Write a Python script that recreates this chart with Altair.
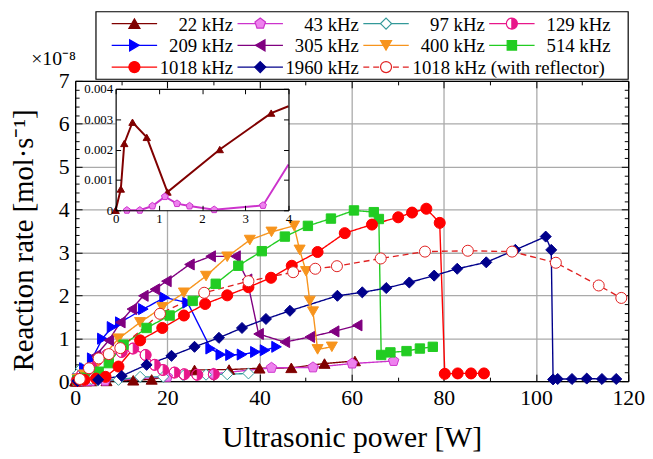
import altair as alt
import pandas as pd

SERIES = ["22 kHz", "43 kHz", "97 kHz", "129 kHz", "209 kHz", "305 kHz", "400 kHz", "514 kHz",
          "1018 kHz", "1960 kHz", "1018 kHz (with reflector)"]

# ultrasonic power [W] and reaction rate [1e-8 mol/s]
X22 = [0.0, 0.12, 0.2, 0.39, 0.72, 1.2, 2.41, 3.6, 6.8, 12.6, 16.6, 25.9, 33.4, 40.0, 46.9, 54.1, 60.7]
Y22 = [0.0, 0.0007, 0.0022, 0.0029, 0.0024, 0.0006, 0.002, 0.0032, 0.005, 0.02, 0.04, 0.26, 0.27, 0.30, 0.31, 0.41, 0.47]
X43 = [0.26, 0.56, 0.85, 1.14, 1.42, 1.71, 2.28, 3.41, 6.5, 20.0, 30.0, 42.6, 51.6, 60.1, 69.1]
Y43 = [0.0, 0.0, 0.00014, 0.00045, 0.00022, 0.00014, 0.00002, 0.00016, 0.0072, 0.1, 0.17, 0.31, 0.32, 0.41, 0.47]
X97 = [0.3, 0.8, 1.3, 1.9, 2.5, 3.5, 4.8, 9.4, 14.1, 19.1, 23.5, 28.4, 33.0, 37.6]
Y97 = [0.02, 0.2, 0.3, 0.17, 0.1, 0.05, 0.02, 0.03, 0.1, 0.1, 0.13, 0.15, 0.16, 0.18]
X129 = [0.5, 1.5, 2.5, 3.7, 4.8, 6.9, 10.1, 12.6, 15.3, 17.3, 19.1, 21.6, 23.7, 26.5, 30.1]
Y129 = [0.05, 0.15, 0.25, 0.34, 0.49, 0.61, 0.68, 0.76, 0.61, 0.38, 0.26, 0.2, 0.16, 0.15, 0.16]
X209 = [0.5, 2.0, 3.7, 5.9, 8.0, 9.8, 14.8, 19.4, 24.4, 29.4, 31.6, 33.7, 36.2, 39.1, 41.2, 43.7]
Y209 = [0.05, 0.3, 0.53, 0.99, 1.26, 1.37, 1.68, 1.95, 1.83, 0.76, 0.62, 0.61, 0.62, 0.68, 0.72, 0.8]
X305 = [0.5, 1.5, 4.5, 7.3, 9.8, 12.3, 14.8, 17.3, 19.8, 24.8, 29.4, 34.8, 37.3, 39.8, 45.5, 50.9, 56.2, 61.2]
Y305 = [0.05, 0.15, 0.6, 0.95, 1.37, 1.68, 1.99, 2.14, 2.33, 2.72, 2.91, 2.91, 2.37, 1.1, 0.91, 1.03, 1.16, 1.30]
X400 = [0.5, 2.0, 5.0, 9.4, 14.1, 18.9, 23.6, 28.4, 33.0, 37.9, 42.6, 47.5, 48.7, 50.1, 50.9, 51.6, 52.6, 55.7]
Y400 = [0.05, 0.15, 0.45, 0.99, 1.37, 1.72, 2.06, 2.45, 2.9, 3.29, 3.48, 3.62, 3.06, 2.56, 1.87, 1.62, 0.74, 0.80]
X514 = [0.5, 2.0, 5.1, 7.3, 10.5, 15.5, 20.5, 25.5, 30.5, 35.4, 40.5, 45.5, 50.5, 55.5, 60.5, 64.8, 65.9, 66.4, 68.4, 71.9, 74.8, 77.6]
Y514 = [0.02, 0.08, 0.22, 0.42, 0.85, 1.24, 1.53, 1.87, 2.27, 2.69, 3.03, 3.37, 3.62, 3.79, 3.98, 3.94, 3.78, 0.61, 0.67, 0.70, 0.76, 0.80]
X1018 = [0.5, 2.0, 4.5, 6.6, 9.4, 14.1, 18.9, 23.6, 28.2, 33.0, 37.6, 42.5, 47.0, 52.6, 58.5, 64.4, 70.1, 73.1, 76.2, 79.1, 80.2, 83.0, 85.9, 88.7]
Y1018 = [0.01, 0.03, 0.06, 0.1, 0.34, 0.95, 1.24, 1.53, 1.80, 2.0, 2.19, 2.41, 2.69, 3.01, 3.45, 3.65, 3.82, 3.93, 4.02, 3.69, 0.17, 0.18, 0.18, 0.18]
X1960 = [0.5, 5.0, 10.1, 15.5, 20.9, 25.9, 31.2, 36.2, 41.4, 46.6, 56.9, 62.3, 67.5, 72.5, 77.9, 82.9, 89.2, 95.5, 102.1, 103.3, 103.7, 104.7, 107.8, 111.0, 114.3, 117.4]
Y1960 = [0.0, 0.03, 0.12, 0.38, 0.59, 0.80, 1.01, 1.24, 1.45, 1.64, 1.99, 2.07, 2.17, 2.30, 2.46, 2.62, 2.77, 3.06, 3.37, 3.06, 0.04, 0.05, 0.05, 0.06, 0.05, 0.05]
XREF = [1.0, 3.0, 5.1, 7.3, 9.8, 18.4, 28.0, 37.6, 47.3, 52.1, 56.8, 66.3, 75.9, 85.2, 94.8, 104.3, 113.6, 118.5]
YREF = [0.05, 0.3, 0.53, 0.63, 0.77, 1.57, 2.06, 2.33, 2.54, 2.62, 2.68, 2.86, 3.02, 3.04, 3.02, 2.76, 2.23, 1.94]

XS = [X22, X43, X97, X129, X209, X305, X400, X514, X1018, X1960, XREF]
YS = [Y22, Y43, Y97, Y129, Y209, Y305, Y400, Y514, Y1018, Y1960, YREF]

# legend grid: column / row of each entry, label anchoring
LEGEND_COL = [0, 1, 2, 3, 0, 1, 2, 3, 0, 1, 2]
LEGEND_ROW = [0, 0, 0, 0, 1, 1, 1, 1, 2, 2, 2]
LEGEND_ANCHOR = ["right"] * 10 + ["left"]

LINE_COLORS = ["#800000", "#CC33CC", "#339999", "#E8178A", "#0000FF", "#800080",
               "#F7941D", "#22CC22", "#FF0000", "#00008B", "#E02020"]
MARK_FILLS = ["#800000", "#EE82EE", "#FFFFFF", "#E8178A", "#0000FF", "#800080",
              "#F7941D", "#22CC22", "#FF0000", "#00008B", "#FFFFFF"]
LINE_WIDTHS = [1.4] * 10 + [2.0]
LINE_DASHES = [[1, 0]] * 10 + [[6, 4]]

TRI_UP = "M0,-0.866L1,0.866L-1,0.866Z"
TRI_DOWN = "M0,0.866L-1,-0.866L1,-0.866Z"
TRI_RIGHT = "M0.866,0L-0.866,-1L-0.866,1Z"
TRI_LEFT = "M-0.866,0L0.866,-1L0.866,1Z"
PENT = "M0,-1L0.951,-0.309L0.588,0.809L-0.588,0.809L-0.951,-0.309Z"
DIAM = "M0,-1L1,0L0,1L-1,0Z"
SQUARE = "M-0.85,-0.85L0.85,-0.85L0.85,0.85L-0.85,0.85Z"
CIRCLE = "M0,-1A1,1 0 1,1 0,1A1,1 0 1,1 0,-1Z"
HALF = "M0,-1A1,1 0 1,1 0,1A1,1 0 1,1 0,-1ZM0,-1A1,1 0 0,0 0,1Z"
MARKERS = [TRI_UP, PENT, DIAM, HALF, TRI_RIGHT, TRI_LEFT, TRI_DOWN, SQUARE, CIRCLE, DIAM, CIRCLE]
HALF_SERIES = SERIES[3]
MARK_SIZE = 125

W, H = 560, 304
MAIN_X_DOMAIN = [0, 120]
MAIN_Y_DOMAIN = [0, 7]
MAIN_X_MAJOR = [0, 20, 40, 60, 80, 100, 120]
MAIN_X_MINOR = [10, 30, 50, 70, 90, 110]
MAIN_Y_MAJOR = [0, 1, 2, 3, 4, 5, 6, 7]
MAIN_Y_MINOR = [0.2, 0.4, 0.6, 0.8, 1.2, 1.4, 1.6, 1.8, 2.2, 2.4, 2.6, 2.8, 3.2, 3.4, 3.6, 3.8,
                4.2, 4.4, 4.6, 4.8, 5.2, 5.4, 5.6, 5.8, 6.2, 6.4, 6.6, 6.8]
INSET_X_DOMAIN = [0, 4]
INSET_Y_DOMAIN = [0, 0.004]
INSET_X_TICKS = [0, 1, 2, 3, 4]
INSET_Y_TICKS = [0, 0.001, 0.002, 0.003, 0.004]
INSET_X_RANGE = [41, 216]
INSET_Y_RANGE = [131, 8]
GRID = "#AAAAAA"

# legend layout (in legend-grid units: one column, one row)
LEG_X_DOMAIN = [0, 4]
LEG_X_RANGE = [37, 546.6]
LEG_Y_DOMAIN = [0, 2]
LEG_Y_RANGE = [-58, -14]
LEG_LINE = 0.361
LEG_RIGHT = 0.965
LEG_LEFT = 0.39
LEG_BOX_X = [-0.125, 4.105]
LEG_BOX_Y = [-0.545, 2.56]

rows = []
for s, xs, ys in zip(SERIES, XS, YS):
    for i, (x, y) in enumerate(zip(xs, ys)):
        rows.append({"series": s, "i": i, "x": x, "y": y})
df = pd.DataFrame(rows)
inset_df = df[df["series"].isin(SERIES[:2])]
inset_box = pd.DataFrame({"x0": [INSET_X_DOMAIN[0]], "x1": [INSET_X_DOMAIN[1]],
                          "y0": [INSET_Y_DOMAIN[0]], "y1": [INSET_Y_DOMAIN[1]]})
leg_df = pd.DataFrame({"series": SERIES, "col": LEGEND_COL, "row": LEGEND_ROW,
                       "anchor": LEGEND_ANCHOR})
leg_box = pd.DataFrame({"x0": [LEG_BOX_X[0]], "x1": [LEG_BOX_X[1]],
                        "y0": [LEG_BOX_Y[0]], "y1": [LEG_BOX_Y[1]]})


def xs_main():
    return alt.Scale(domain=MAIN_X_DOMAIN, nice=False, zero=False)


def ys_main():
    return alt.Scale(domain=MAIN_Y_DOMAIN, nice=False, zero=False)


def xs_inset():
    return alt.Scale(domain=INSET_X_DOMAIN, range=INSET_X_RANGE, nice=False, zero=False)


def ys_inset():
    return alt.Scale(domain=INSET_Y_DOMAIN, range=INSET_Y_RANGE, nice=False, zero=False)


def xs_leg():
    return alt.Scale(domain=LEG_X_DOMAIN, range=LEG_X_RANGE, nice=False, zero=False)


def ys_leg():
    return alt.Scale(domain=LEG_Y_DOMAIN, range=LEG_Y_RANGE, nice=False, zero=False)


def sc(rng):
    return alt.Scale(domain=SERIES, range=rng)


def tick_axis(orient, offset, values, size, domain=False, **kw):
    return alt.Axis(orient=orient, offset=offset, values=values, ticks=True, tickSize=size,
                    labels=False, grid=False, domain=domain, title=None, **kw)


# --- main: lines (labels, grid, left/bottom frame)
A = alt.Chart(df).mark_line().encode(
    x=alt.X("x:Q", scale=xs_main(), axis=alt.Axis(
        orient="bottom", values=MAIN_X_MAJOR, grid=True, gridColor=GRID, gridWidth=1.3,
        domain=True, domainWidth=1.3, ticks=False, labelFontSize=22, labelPadding=7,
        labelFlush=False, labelOverlap=False, title="Ultrasonic power [W]", titleFontSize=30,
        titleX=280, titleY=66, titleAlign="center", titleBaseline="alphabetic", titleAngle=0)),
    y=alt.Y("y:Q", scale=ys_main(), axis=alt.Axis(
        orient="left", values=MAIN_Y_MAJOR, grid=True, gridColor=GRID, gridWidth=1.3,
        domain=True, domainWidth=1.3, ticks=False, labelFontSize=22, labelPadding=6,
        labelFlush=False, labelOverlap=False, format="d",
        title="Reaction rate [mol·s⁻¹]", titleFontSize=29, titleX=-52, titleY=161,
        titleAngle=270, titleAlign="center", titleBaseline="middle")),
    stroke=alt.Stroke("series:N", scale=sc(LINE_COLORS), legend=None),
    strokeWidth=alt.StrokeWidth("series:N", scale=sc(LINE_WIDTHS), legend=None),
    strokeDash=alt.StrokeDash("series:N", scale=sc(LINE_DASHES), legend=None),
    order=alt.Order("i:Q"),
)

# white backing for the half-filled markers
A2 = alt.Chart(df).transform_filter(alt.datum.series == HALF_SERIES).mark_point(
    shape="circle", size=MARK_SIZE, filled=True, fill="white", opacity=1, strokeWidth=0).encode(
    x=alt.X("x:Q", scale=xs_main(), axis=None),
    y=alt.Y("y:Q", scale=ys_main(), axis=None),
)

# --- main: markers (inward major ticks bottom/left, x10^-8 note)
B = alt.Chart(df).mark_point(size=MARK_SIZE, opacity=1, strokeWidth=1).encode(
    x=alt.X("x:Q", scale=xs_main(), axis=tick_axis("top", -H, MAIN_X_MAJOR, 7)),
    y=alt.Y("y:Q", scale=ys_main(), axis=alt.Axis(
        orient="right", offset=-W, values=MAIN_Y_MAJOR, ticks=True, tickSize=7, labels=False,
        grid=False, domain=False, title="×10⁻⁸", titleFontSize=20, titleAngle=0,
        titleX=-45, titleY=-17, titleAlign="left", titleBaseline="alphabetic")),
    shape=alt.Shape("series:N", scale=sc(MARKERS), legend=None),
    stroke=alt.Stroke("series:N", scale=sc(LINE_COLORS), legend=None),
    fill=alt.Fill("series:N", scale=sc(MARK_FILLS), legend=None),
)

# --- top/right frame with inward major ticks
C = alt.Chart(df).transform_filter("false").mark_point().encode(
    x=alt.X("x:Q", scale=xs_main(), axis=tick_axis("bottom", -H, MAIN_X_MAJOR, 7, domain=True, domainWidth=1.3)),
    y=alt.Y("y:Q", scale=ys_main(), axis=tick_axis("left", -W, MAIN_Y_MAJOR, 7, domain=True, domainWidth=1.3)),
)

# --- minor ticks
D = alt.Chart(df).transform_filter("false").mark_point().encode(
    x=alt.X("x:Q", scale=xs_main(), axis=tick_axis("top", -H, MAIN_X_MINOR, 4)),
    y=alt.Y("y:Q", scale=ys_main(), axis=tick_axis("right", -W, MAIN_Y_MINOR, 4)),
)
E = alt.Chart(df).transform_filter("false").mark_point().encode(
    x=alt.X("x:Q", scale=xs_main(), axis=tick_axis("bottom", -H, MAIN_X_MINOR, 4)),
    y=alt.Y("y:Q", scale=ys_main(), axis=tick_axis("left", -W, MAIN_Y_MINOR, 4)),
)

# --- inset background with labelled axes
F = alt.Chart(inset_box).mark_rect(fill="white").encode(
    x=alt.X("x0:Q", scale=xs_inset(), axis=alt.Axis(
        orient="bottom", offset=-(H - INSET_Y_RANGE[0]), values=INSET_X_TICKS, ticks=False,
        labels=True, labelFontSize=13, labelPadding=2, labelFlush=False, labelOverlap=False,
        grid=False, domain=True, domainWidth=1.2, title=None, zindex=1)),
    x2="x1:Q",
    y=alt.Y("y0:Q", scale=ys_inset(), axis=alt.Axis(
        orient="left", offset=-INSET_X_RANGE[0], values=INSET_Y_TICKS, ticks=False,
        labels=True, labelFontSize=13, labelPadding=3, labelFlush=False, labelOverlap=False,
        format=".3~f", grid=False, domain=True, domainWidth=1.2, title=None, zindex=1)),
    y2="y1:Q",
)

XMAX = INSET_X_DOMAIN[1]
G = alt.Chart(inset_df).transform_window(
    px="lag(x)", py="lag(y)", groupby=["series"], sort=[alt.SortField("i")]
).transform_calculate(
    cx=f"datum.x > {XMAX} ? {XMAX} : datum.x",
    cy=f"datum.x > {XMAX} ? datum.py + (datum.y - datum.py) * ({XMAX} - datum.px) / (datum.x - datum.px) : datum.y",
).transform_filter("datum.px == null || datum.px <= %s" % XMAX).mark_line(strokeWidth=2).encode(
    x=alt.X("cx:Q", scale=xs_inset(), axis=tick_axis("top", -INSET_Y_RANGE[0], INSET_X_TICKS, 5, zindex=1)),
    y=alt.Y("cy:Q", scale=ys_inset(), axis=tick_axis("right", -(W - INSET_X_RANGE[0]), INSET_Y_TICKS, 5, zindex=1)),
    stroke=alt.Stroke("series:N", scale=sc(LINE_COLORS), legend=None),
    order=alt.Order("i:Q"),
)

Hh = alt.Chart(inset_df).transform_filter("datum.x <= %s" % XMAX).mark_point(size=55, opacity=1, strokeWidth=1).encode(
    x=alt.X("x:Q", scale=xs_inset(), axis=tick_axis("bottom", -(H - INSET_Y_RANGE[1]), INSET_X_TICKS, 5,
                                                     domain=True, domainWidth=1.2, zindex=1)),
    y=alt.Y("y:Q", scale=ys_inset(), axis=tick_axis("left", -INSET_X_RANGE[1], INSET_Y_TICKS, 5,
                                                     domain=True, domainWidth=1.2, zindex=1)),
    shape=alt.Shape("series:N", scale=sc(MARKERS), legend=None),
    stroke=alt.Stroke("series:N", scale=sc(LINE_COLORS), legend=None),
    fill=alt.Fill("series:N", scale=sc(MARK_FILLS), legend=None),
)

# --- legend (key) drawn on its own grid scales
leg_base = alt.Chart(leg_df).transform_calculate(
    xs="datum.col", xe=f"datum.col + {LEG_LINE}", xm=f"datum.col + {LEG_LINE / 2}",
    xr=f"datum.col + {LEG_RIGHT}", xl=f"datum.col + {LEG_LINE + 0.03}",
)
LB = alt.Chart(leg_box).mark_rect(fill="white", stroke="black", strokeWidth=1.2).encode(
    x=alt.X("x0:Q", scale=xs_leg(), axis=None), x2="x1:Q",
    y=alt.Y("y0:Q", scale=ys_leg(), axis=None), y2="y1:Q",
)
LL = leg_base.mark_rule().encode(
    x=alt.X("xs:Q", scale=xs_leg(), axis=None), x2="xe:Q",
    y=alt.Y("row:Q", scale=ys_leg(), axis=None),
    stroke=alt.Stroke("series:N", scale=sc(LINE_COLORS), legend=None),
    strokeWidth=alt.StrokeWidth("series:N", scale=sc(LINE_WIDTHS), legend=None),
    strokeDash=alt.StrokeDash("series:N", scale=sc(LINE_DASHES), legend=None),
)
LW = leg_base.transform_filter(alt.datum.series == HALF_SERIES).mark_point(
    shape="circle", size=MARK_SIZE, filled=True, fill="white", opacity=1, strokeWidth=0).encode(
    x=alt.X("xm:Q", scale=xs_leg(), axis=None),
    y=alt.Y("row:Q", scale=ys_leg(), axis=None),
)
LM = leg_base.mark_point(size=MARK_SIZE, opacity=1, strokeWidth=1.2).encode(
    x=alt.X("xm:Q", scale=xs_leg(), axis=None),
    y=alt.Y("row:Q", scale=ys_leg(), axis=None),
    shape=alt.Shape("series:N", scale=sc(MARKERS), legend=None),
    stroke=alt.Stroke("series:N", scale=sc(LINE_COLORS), legend=None),
    fill=alt.Fill("series:N", scale=sc(MARK_FILLS), legend=None),
)
LT1 = leg_base.transform_filter(alt.datum.anchor == "right").mark_text(
    align="right", baseline="middle", fontSize=19, dy=1, color="black").encode(
    x=alt.X("xr:Q", scale=xs_leg(), axis=None),
    y=alt.Y("row:Q", scale=ys_leg(), axis=None),
    text="series:N",
)
LT2 = leg_base.transform_filter(alt.datum.anchor == "left").mark_text(
    align="left", baseline="middle", fontSize=19, dy=1, color="black").encode(
    x=alt.X("xl:Q", scale=xs_leg(), axis=None),
    y=alt.Y("row:Q", scale=ys_leg(), axis=None),
    text="series:N",
)

chart = alt.layer(A, A2, B, C, D, E, F, G, Hh, LB, LL, LW, LM, LT1, LT2).resolve_scale(
    x="independent", y="independent", stroke="independent", fill="independent",
    shape="independent", strokeDash="independent", strokeWidth="independent",
).properties(
    width=W, height=H,
    autosize=alt.AutoSizeParams(type="none"),
    padding={"left": 68, "top": 71, "right": 17, "bottom": 74},
).configure(font="Liberation Serif").configure_view(stroke=None).configure_axis(
    labelColor="black", titleColor="black", tickColor="black", domainColor="black",
    labelFont="Liberation Serif", titleFont="Liberation Serif", titleFontWeight="normal",
)

chart.save("out.html", embed_options={"renderer": "svg", "actions": False})
